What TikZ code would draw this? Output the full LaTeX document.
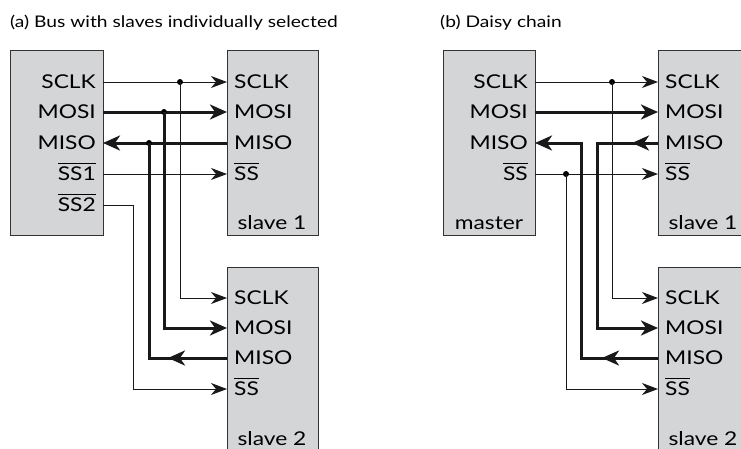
\documentclass[tikz,border=0pt]{standalone}
\usepackage{fontspec}
\setmainfont[FakeStretch=1.2]{Lato}
\usetikzlibrary{arrows.meta,decorations.markings}
\newcommand\ovl[1]{\begingroup\setbox0\hbox{#1}\rlap{\rule[\dimexpr\ht0+2.6pt\relax]{\wd0}{1pt}}\box0\endgroup}
\definecolor{boxfill}{RGB}{212,213,215}
\definecolor{boxline}{RGB}{50,50,50}
\tikzset{
  x=1pt, y=-1pt,
  box/.style={draw=boxline, fill=boxfill, line width=1pt, inner sep=0pt, anchor=north west, minimum height=185pt},
  lbl/.style={inner sep=0pt, font=\fontsize{19}{22}\selectfont},
  ttl/.style={inner sep=0pt, anchor=base west, font=\fontsize{16}{20}\selectfont},
  sigthin/.style={line width=1pt, draw=black!90},
  sigthick/.style={line width=3pt, draw=black!90},
  tipthin/.style={-{Stealth[length=16pt,width=12pt,inset=5pt]}},
  tipthick/.style={-{Stealth[length=17pt,width=15pt,inset=5pt]}},
  midarrow/.style={postaction={decorate}, decoration={markings, mark=at position #1 with {\arrow{Stealth[length=17pt,width=15pt,inset=5pt]}}}},
  dot/.style={circle, fill=black, inner sep=0pt, minimum size=6pt}
}
\begin{document}
\begin{tikzpicture}
\useasboundingbox (0,0) rectangle (741,448);
\clip (0,0) rectangle (741,448);
% titles
\node[ttl] (ta) at (10,27) {(a) Bus with slaves individually selected};
\node[ttl] (tb) at (440,27) {(b) Daisy chain};
% ---------------- (a) boxes
\node[box, minimum width=93pt] (ma) at (10,50) {};
\node[box, minimum width=91pt] (s1a) at (227,50) {};
\node[box, minimum width=91pt] (s2a) at (227,267) {};
% master (a) labels
\node[lbl, anchor=base east] (maL1) at (96,88.5) {SCLK};
\node[lbl, anchor=base east] (maL2) at (96,118.5) {MOSI};
\node[lbl, anchor=base east] (maL3) at (96,149.5) {MISO};
\node[lbl, anchor=base east] (maL4) at (96,180.5) {\ovl{SS1}};
\node[lbl, anchor=base east] (maL5) at (96,211.5) {\ovl{SS2}};
% slave 1 (a)
\node[lbl, anchor=base west] (s1aL1) at (234,88.5) {SCLK};
\node[lbl, anchor=base west] (s1aL2) at (234,118.5) {MOSI};
\node[lbl, anchor=base west] (s1aL3) at (234,149.5) {MISO};
\node[lbl, anchor=base west] (s1aL4) at (234,180.5) {\ovl{SS}};
\node[lbl, anchor=base] (s1aN) at (272,229) {slave 1};
% slave 2 (a)
\node[lbl, anchor=base west] (s2aL1) at (234,304.5) {SCLK};
\node[lbl, anchor=base west] (s2aL2) at (234,334.5) {MOSI};
\node[lbl, anchor=base west] (s2aL3) at (234,364.5) {MISO};
\node[lbl, anchor=base west] (s2aL4) at (234,395.5) {\ovl{SS}};
\node[lbl, anchor=base] (s2aN) at (272,445) {slave 2};
% ports (a)
\coordinate (aMsclk) at (103,82);
\coordinate (aMmosi) at (103,112);
\coordinate (aMmiso) at (103,143);
\coordinate (aMss1) at (103,174);
\coordinate (aMss2) at (103,205);
\coordinate (aS1sclk) at (227,82);
\coordinate (aS1mosi) at (227,112);
\coordinate (aS1miso) at (227,143);
\coordinate (aS1ss) at (227,174);
\coordinate (aS2sclk) at (227,298);
\coordinate (aS2mosi) at (227,328);
\coordinate (aS2miso) at (227,358);
\coordinate (aS2ss) at (227,389);
\coordinate (aBss2) at (133,205);
% connectors (a)
\draw[sigthin, tipthin] (aMsclk) -- (aS1sclk);
\draw[sigthick, tipthick] (aMmosi) -- (aS1mosi);
\draw[sigthick, tipthick] (aS1miso) -- (aMmiso);
\draw[sigthin, tipthin] (aMss1) -- (aS1ss);
\node[dot] (aDsclk) at (180,82) {};
\node[dot] (aDmosi) at (164,112) {};
\node[dot] (aDmiso) at (149,143) {};
\draw[sigthin, tipthin] (aDsclk.center) |- (aS2sclk);
\draw[sigthick, tipthick] (aDmosi.center) |- (aS2mosi);
\draw[sigthick, midarrow=59pt] (aS2miso) -| (aDmiso.center);
\draw[sigthin, tipthin] (aMss2) -- (aBss2) |- (aS2ss);
% ---------------- (b) boxes
\node[box, minimum width=92pt] (mb) at (443,50) {};
\node[box, minimum width=91pt] (s1b) at (658,50) {};
\node[box, minimum width=91pt] (s2b) at (658,267) {};
\node[lbl, anchor=base east] (mbL1) at (528,88.5) {SCLK};
\node[lbl, anchor=base east] (mbL2) at (528,118.5) {MOSI};
\node[lbl, anchor=base east] (mbL3) at (528,149.5) {MISO};
\node[lbl, anchor=base east] (mbL4) at (528,180.5) {\ovl{SS}};
\node[lbl, anchor=base] (mbN) at (489,229) {master};
\node[lbl, anchor=base west] (s1bL1) at (665,88.5) {SCLK};
\node[lbl, anchor=base west] (s1bL2) at (665,118.5) {MOSI};
\node[lbl, anchor=base west] (s1bL3) at (665,149.5) {MISO};
\node[lbl, anchor=base west] (s1bL4) at (665,180.5) {\ovl{SS}};
\node[lbl, anchor=base] (s1bN) at (703,229) {slave 1};
\node[lbl, anchor=base west] (s2bL1) at (665,304.5) {SCLK};
\node[lbl, anchor=base west] (s2bL2) at (665,334.5) {MOSI};
\node[lbl, anchor=base west] (s2bL3) at (665,364.5) {MISO};
\node[lbl, anchor=base west] (s2bL4) at (665,395.5) {\ovl{SS}};
\node[lbl, anchor=base] (s2bN) at (703,445) {slave 2};
% ports (b)
\coordinate (bMsclk) at (535,82);
\coordinate (bMmosi) at (535,112);
\coordinate (bMmiso) at (535,143);
\coordinate (bMss) at (535,174);
\coordinate (bS1sclk) at (658,82);
\coordinate (bS1mosi) at (658,112);
\coordinate (bS1miso) at (658,143);
\coordinate (bS1ss) at (658,174);
\coordinate (bS2sclk) at (658,298);
\coordinate (bS2mosi) at (658,328);
\coordinate (bS2miso) at (658,358);
\coordinate (bS2ss) at (658,389);
\coordinate (bVmiso) at (581,143);
\coordinate (bVchain) at (597,143);
% connectors (b)
\draw[sigthin, tipthin] (bMsclk) -- (bS1sclk);
\draw[sigthick, tipthick] (bMmosi) -- (bS1mosi);
\draw[sigthin, tipthin] (bMss) -- (bS1ss);
\node[dot] (bDsclk) at (612,82) {};
\node[dot] (bDss) at (566,174) {};
\draw[sigthin, tipthin] (bDsclk.center) |- (bS2sclk);
\draw[sigthin, tipthin] (bDss.center) |- (bS2ss);
\draw[sigthick, tipthick, midarrow=26pt] (bS1miso) -- (bVchain) |- (bS2mosi);
\draw[sigthick, tipthick, midarrow=56pt] (bS2miso) -| (bVmiso) -- (bMmiso);
\end{tikzpicture}
\end{document}
